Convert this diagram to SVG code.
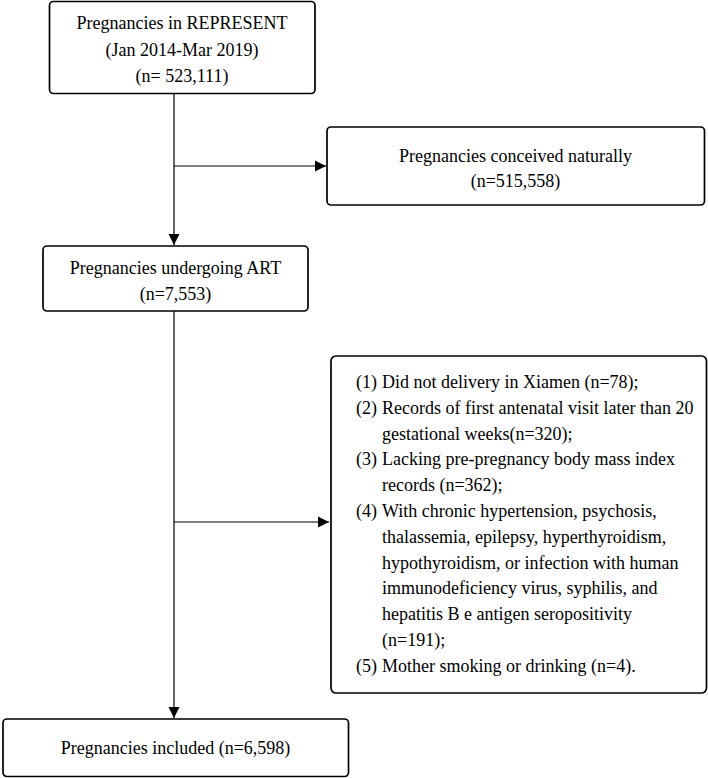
<svg xmlns="http://www.w3.org/2000/svg" width="708" height="778" viewBox="0 0 708 778">
<style>
.box{fill:#fff;stroke:#000;stroke-width:1.7}
.t{font-family:"Liberation Serif","Times New Roman",serif;font-size:18px;fill:#000}
.c{text-anchor:middle}
.ln{stroke:#000;stroke-width:1.2;fill:none}
</style>
<defs>
<marker id="ah" markerUnits="userSpaceOnUse" markerWidth="12" markerHeight="12" refX="11" refY="6" orient="auto">
<path d="M0,0.5 L11,6 L0,11.5 z" fill="#000"/>
</marker>
</defs>
<rect width="708" height="778" fill="#fff"/>
<g id="connectors">
<line class="ln" x1="174" y1="94" x2="174" y2="245" marker-end="url(#ah)"/>
<line class="ln" x1="174" y1="166" x2="326" y2="166" marker-end="url(#ah)"/>
<line class="ln" x1="174" y1="311" x2="174" y2="718" marker-end="url(#ah)"/>
<line class="ln" x1="174" y1="522" x2="329" y2="522" marker-end="url(#ah)"/>
</g>
<g id="n_represent">
<rect class="box" x="49.5" y="1.5" width="265.5" height="92" rx="4"/>
<text class="t c" x="182" y="28.5">Pregnancies in REPRESENT</text>
<text class="t c" x="182" y="56">(Jan 2014-Mar 2019)</text>
<text class="t c" x="182" y="82">(n= 523,111)</text>
</g>
<g id="n_natural">
<rect class="box" x="327" y="127" width="377.5" height="78" rx="4"/>
<text class="t c" x="515.5" y="162">Pregnancies conceived naturally</text>
<text class="t c" x="515.5" y="187">(n=515,558)</text>
</g>
<g id="n_art">
<rect class="box" x="43" y="246" width="265" height="65" rx="4"/>
<text class="t c" x="175.5" y="273.5">Pregnancies undergoing ART</text>
<text class="t c" x="175.5" y="300">(n=7,553)</text>
</g>
<g id="n_excluded">
<rect class="box" x="331" y="356" width="375.5" height="337" rx="5"/>
<text class="t" y="388"><tspan x="356">(1)</tspan><tspan x="382">Did not delivery in Xiamen (n=78);</tspan></text>
<text class="t" y="413.8"><tspan x="356">(2)</tspan><tspan x="382">Records of first antenatal visit later than 20</tspan></text>
<text class="t" x="382" y="439.6">gestational weeks(n=320);</text>
<text class="t" y="465.4"><tspan x="356">(3)</tspan><tspan x="382">Lacking pre-pregnancy body mass index</tspan></text>
<text class="t" x="382" y="491.2">records (n=362);</text>
<text class="t" y="517"><tspan x="356">(4)</tspan><tspan x="382">With chronic hypertension, psychosis,</tspan></text>
<text class="t" x="382" y="542.8">thalassemia, epilepsy, hyperthyroidism,</text>
<text class="t" x="382" y="568.6">hypothyroidism, or infection with human</text>
<text class="t" x="382" y="594.4">immunodeficiency virus, syphilis, and</text>
<text class="t" x="382" y="620.2">hepatitis B e antigen seropositivity</text>
<text class="t" x="382" y="646">(n=191);</text>
<text class="t" y="671.8"><tspan x="356">(5)</tspan><tspan x="382">Mother smoking or drinking (n=4).</tspan></text>
</g>
<g id="n_included">
<rect class="box" x="3" y="719" width="345.5" height="57.5" rx="4"/>
<text class="t c" x="175.5" y="754">Pregnancies included (n=6,598)</text>
</g>
</svg>
